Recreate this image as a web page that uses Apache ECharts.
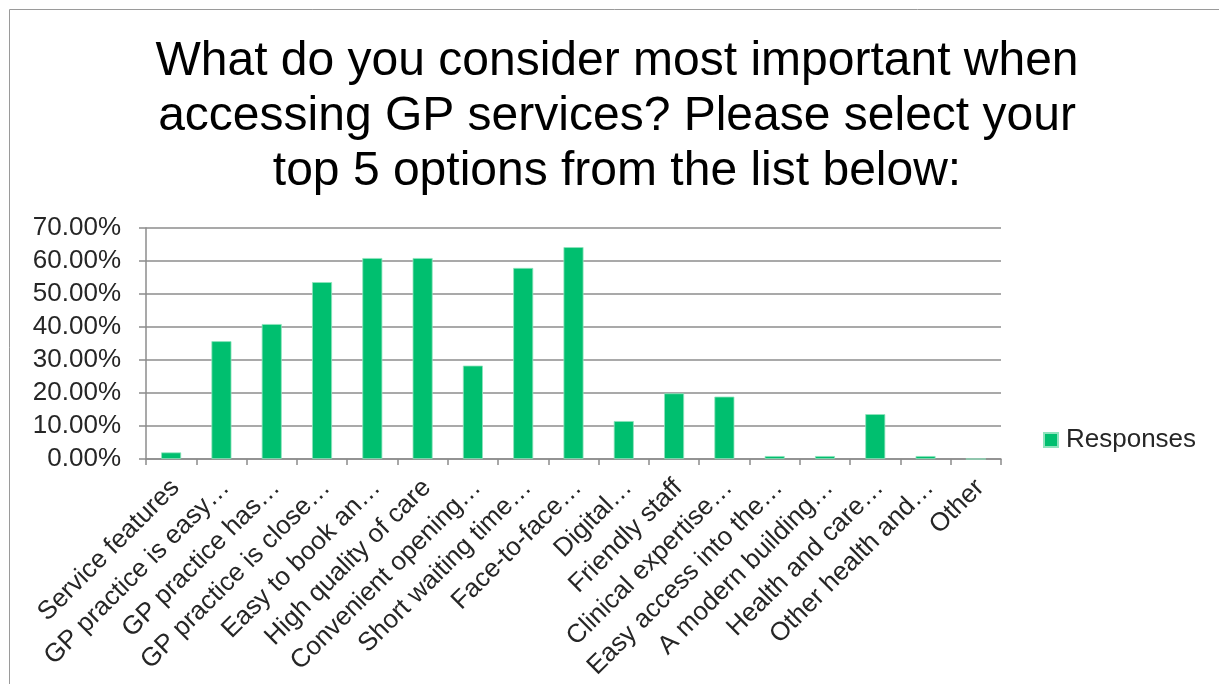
<!DOCTYPE html>
<html>
<head>
<meta charset="utf-8">
<script src="https://cdn.jsdelivr.net/npm/echarts@6/dist/echarts.min.js"></script>
<style>
  html, body { margin: 0; padding: 0; background: #ffffff; }
  #chart { width: 1219px; height: 684px; }
</style>
</head>
<body>
<div id="chart"></div>
<script>
// Survey answer options (as shown on the axis)
const categories = [
  'Service features',
  'GP practice is easy\u2026',
  'GP practice has\u2026',
  'GP practice is close\u2026',
  'Easy to book an\u2026',
  'High quality of care',
  'Convenient opening\u2026',
  'Short waiting time\u2026',
  'Face-to-face\u2026',
  'Digital\u2026',
  'Friendly staff',
  'Clinical expertise\u2026',
  'Easy access into the\u2026',
  'A modern building\u2026',
  'Health and care\u2026',
  'Other health and\u2026',
  'Other'
];

// Share of respondents choosing each option (%)
const responses = [2.0, 35.7, 40.9, 53.6, 60.9, 60.9, 28.3, 57.9, 64.2, 11.5, 19.9, 18.9, 0.9, 0.9, 13.6, 0.9, 0];

const seriesName = 'Responses';
const titleText = 'What do you consider most important when\naccessing GP services? Please select your\ntop 5 options from the list below:';

const FONT = '"Liberation Sans", Arial, sans-serif';
const GREEN = '#00BF6F';
const GRID_GREY = '#8c8c8c';
const LABEL_COLOR = '#262626';

const chart = echarts.init(document.getElementById('chart'), null, { renderer: 'canvas' });

chart.setOption({
  backgroundColor: '#ffffff',
  animation: false,
  title: {
    text: titleText,
    left: 617,
    top: 34,
    textAlign: 'center',
    padding: 0,
    textStyle: {
      fontFamily: FONT,
      fontSize: 48,
      fontWeight: 'normal',
      color: '#000000',
      lineHeight: 55,
      align: 'center'
    }
  },
  legend: {
    orient: 'vertical',
    left: 1043,
    top: 427,
    padding: 0,
    itemWidth: 14,
    itemHeight: 14,
    itemGap: 8,
    icon: 'rect',
    textStyle: { fontFamily: FONT, fontSize: 26, color: LABEL_COLOR, padding: [0, 0, 0, 3] },
    data: [seriesName]
  },
  grid: {
    left: 146,
    right: 218,
    top: 228,
    bottom: 225,
    containLabel: false
  },
  xAxis: {
    type: 'category',
    data: categories,
    boundaryGap: true,
    axisLine: { show: true, lineStyle: { color: GRID_GREY, width: 1.5 } },
    axisTick: { show: true, length: 6, lineStyle: { color: GRID_GREY, width: 1.5 } },
    axisLabel: {
      interval: 0,
      rotate: 45,
      margin: 29,
      padding: [0, -6, 0, 0],
      fontFamily: FONT,
      fontSize: 26,
      color: LABEL_COLOR
    },
    splitLine: { show: false }
  },
  yAxis: {
    type: 'value',
    min: 0,
    max: 70,
    interval: 10,
    axisLine: { show: true, lineStyle: { color: GRID_GREY, width: 1.5 } },
    axisTick: { show: true, length: 7, lineStyle: { color: GRID_GREY, width: 1.5 } },
    axisLabel: {
      margin: 25,
      fontFamily: FONT,
      fontSize: 26,
      color: LABEL_COLOR,
      formatter: function (v) { return v.toFixed(2) + '%'; }
    },
    splitLine: { show: true, lineStyle: { color: GRID_GREY, width: 1.5 } }
  },
  series: [{
    name: seriesName,
    type: 'bar',
    data: responses,
    barWidth: 20,
    itemStyle: { color: GREEN, borderColor: '#8fe3bd', borderWidth: 0.8 }
  }],
  graphic: [{
    type: 'rect',
    shape: { x: 9.5, y: 9.5, width: 1300, height: 800 },
    style: { fill: 'none', stroke: '#9a9a9a', lineWidth: 1 },
    silent: true,
    z: -1
  }]
});
</script>
</body>
</html>
